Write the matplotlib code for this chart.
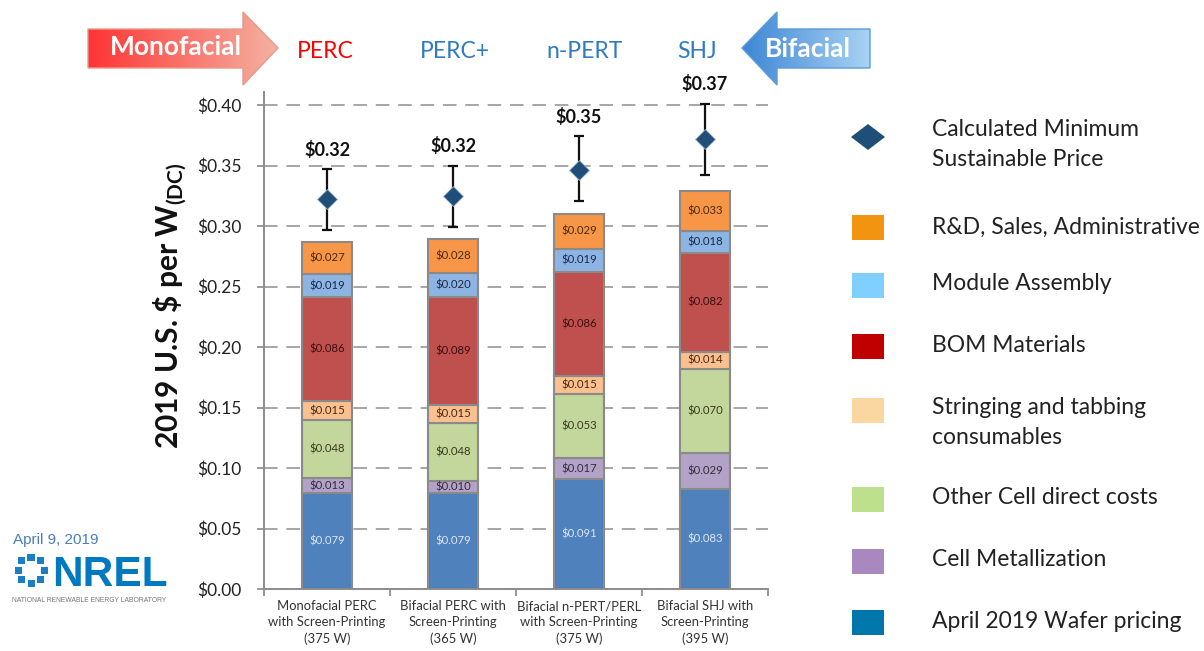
import numpy as np
import matplotlib
matplotlib.use("Agg")
import matplotlib.pyplot as plt
from matplotlib.patches import Polygon, Rectangle
from matplotlib.colors import LinearSegmentedColormap

plt.rcParams['font.family'] = ['Lato', 'DejaVu Sans']

# ---------------- data ----------------
categories = ["Monofacial PERC\nwith Screen-Printing\n(375 W)",
              "Bifacial PERC with\nScreen-Printing\n(365 W)",
              "Bifacial n-PERT/PERL\nwith Screen-Printing\n(375 W)",
              "Bifacial SHJ with\nScreen-Printing\n(395 W)"]
top_titles = ["PERC", "PERC+", "n-PERT", "SHJ"]

wafer = [0.079, 0.079, 0.091, 0.083]
metallization = [0.013, 0.010, 0.017, 0.029]
other_cell = [0.048, 0.048, 0.053, 0.070]
stringing = [0.015, 0.015, 0.015, 0.014]
bom = [0.086, 0.089, 0.086, 0.082]
module_assembly = [0.019, 0.020, 0.019, 0.018]
rnd_sga = [0.027, 0.028, 0.029, 0.033]

msp = [0.322, 0.325, 0.346, 0.372]
msp_low = [0.297, 0.299, 0.321, 0.342]
msp_high = [0.347, 0.350, 0.374, 0.401]
msp_labels = ["$0.32", "$0.32", "$0.35", "$0.37"]

yticks = [0.00, 0.05, 0.10, 0.15, 0.20, 0.25, 0.30, 0.35, 0.40]

series = [
    ("April 2019 Wafer pricing", wafer, "#4F81BD", "#0077AA", "#DCE6F2"),
    ("Cell Metallization", metallization, "#B3A2C7", "#A888BE", "#3A2A3A"),
    ("Other Cell direct costs", other_cell, "#C3D69B", "#BDE08C", "#3A3A20"),
    ("Stringing and tabbing\nconsumables", stringing, "#FAC090", "#FAD7A0", "#4A2A10"),
    ("BOM Materials", bom, "#C0504D", "#C00000", "#3A1010"),
    ("Module Assembly", module_assembly, "#8DB4E2", "#7FD0FF", "#1A2A4A"),
    ("R&D, Sales, Administrative", rnd_sga, "#F79646", "#F39410", "#4A2A10"),
]

# ---------------- figure ----------------
W, H = 1204, 651
fig = plt.figure(figsize=(W / 100, H / 100), dpi=100)

def fx(px):
    return px / W

def fy(py):
    return 1 - py / H

ax_l, ax_r, ax_b, ax_t = 264, 768, 589, 92
ax = fig.add_axes([fx(ax_l), fy(ax_b), fx(ax_r - ax_l), (ax_b - ax_t) / H])
ymax = 0.40 * (ax_b - ax_t) / (ax_b - 105)
ax.set_ylim(0, ymax)
ax.set_xlim(-0.5, 3.5)

x = np.arange(len(categories))
bottom = np.zeros(len(categories))
for name, vals, col, lcol, tcol in series:
    vals = np.array(vals)
    ax.bar(x, vals, 0.40, bottom=bottom, color=col, edgecolor="#8A8A8A",
           linewidth=1.5, zorder=3)
    for xi, b, v in zip(x, bottom, vals):
        ax.text(xi, b + v / 2, f"${v:.3f}", ha="center", va="center",
                fontsize=8.2, color=tcol, zorder=4)
    bottom = bottom + vals

# MSP diamonds and error bars
err = [np.array(msp) - np.array(msp_low), np.array(msp_high) - np.array(msp)]
ax.errorbar(x, msp, yerr=err, fmt="none", ecolor="#111111", elinewidth=1.6,
            capsize=3.8, capthick=1.6, zorder=5)
ax.plot(x, msp, linestyle="none", marker="D", markersize=10.5,
        markerfacecolor="#1F4E79", markeredgecolor="#9DB3CC",
        markeredgewidth=0.6, zorder=6)
for xi, hi, lab in zip(x, msp_high, msp_labels):
    ax.annotate(lab, (xi, hi), xytext=(0, 14), textcoords="offset points",
                ha="center", va="center", fontsize=13, fontweight="bold",
                color="#111111")

# grid / axes styling
ax.set_yticks(yticks)
ax.set_yticklabels([f"${t:.2f}" for t in yticks])
ax.yaxis.grid(True, color="#A6A6A6", linewidth=1.4, linestyle=(0, (7, 4.5)),
              zorder=1)
ax.set_axisbelow(True)
ax.set_xticks(np.arange(-0.5, 4.0, 1.0), minor=False)
ax.set_xticklabels([])
ax.set_xticks(x, minor=True)
ax.set_xticklabels(categories, minor=True, fontsize=9.4, color="#333333",
                   linespacing=1.42)
ax.tick_params(axis="x", which="minor", length=0, pad=8)
ax.tick_params(axis="x", which="major", length=5, color="#888888", width=1.2)
ax.tick_params(axis="y", length=5, color="#888888", width=1.2, labelsize=12.5,
               labelcolor="#222222", pad=11)
for s in ["top", "right"]:
    ax.spines[s].set_visible(False)
for s in ["left", "bottom"]:
    ax.spines[s].set_color("#8C8C8C")
    ax.spines[s].set_linewidth(1.4)

# y label
fig.text(fx(170), fy(306), r"2019 U.S. \$ per W$_{\mathregular{(DC)}}$",
         rotation=90, ha="center", va="center", fontsize=21.5,
         fontweight="bold", color="#111111")

# ---------------- overlay in pixel coordinates ----------------
ov = fig.add_axes([0, 0, 1, 1], zorder=10)
ov.axis("off")
ov.patch.set_alpha(0)

# top titles
title_x = [325, 455, 585, 697]
title_cols = ["#FF0000", "#2E7BC4", "#2E7BC4", "#2E7BC4"]
for tx, t, c in zip(title_x, top_titles, title_cols):
    ov.text(tx, 51, t, ha="center", va="center", fontsize=16.5, color=c)

def grad_arrow(poly, c0, c1, edge):
    pts = np.array(poly)
    cmap = LinearSegmentedColormap.from_list("g", [c0, c1])
    grad = np.linspace(0, 1, 256).reshape(1, -1)
    im = ov.imshow(grad, cmap=cmap, aspect="auto",
                   extent=(pts[:, 0].min(), pts[:, 0].max(),
                           pts[:, 1].max(), pts[:, 1].min()), zorder=2)
    p = Polygon(pts, closed=True, facecolor="none", edgecolor=edge,
                linewidth=1.0, zorder=3)
    ov.add_patch(p)
    im.set_clip_path(p)

grad_arrow([(88, 29), (243, 29), (243, 12), (278, 48), (243, 85), (243, 68),
            (88, 68)], "#FF3434", "#F4B2A2", "#E89A88")
ov.text(176, 47, "Monofacial", ha="center", va="center", fontsize=19,
        fontweight="bold", color="white", zorder=4)
grad_arrow([(870, 29), (777, 29), (777, 12), (742, 48), (777, 85), (777, 68),
            (870, 68)], "#3D86D4", "#A9D2F4", "#5B9BD5")
ov.text(808, 49, "Bifacial", ha="center", va="center", fontsize=19,
        fontweight="bold", color="white", zorder=4)

ov.set_xlim(0, W)
ov.set_ylim(H, 0)

# legend (manual)
leg_fs = 16.5
ov.add_patch(Polygon([(851, 137), (868, 124), (885, 137), (868, 150)],
                     closed=True, facecolor="#1F4E79", edgecolor="none"))
ov.text(932, 130, "Calculated Minimum", ha="left", va="center",
        fontsize=leg_fs, color="#222222")
ov.text(932, 160, "Sustainable Price", ha="left", va="center",
        fontsize=leg_fs, color="#222222")
leg_rows = [(["R&D, Sales, Administrative"], "#F39410", 227, [227]),
            (["Module Assembly"], "#7FD0FF", 285, [284]),
            (["BOM Materials"], "#C00000", 346, [345]),
            (["Stringing and tabbing", "consumables"], "#FAD7A0", 410, [407, 437]),
            (["Other Cell direct costs"], "#BDE08C", 499, [498]),
            (["Cell Metallization"], "#A888BE", 561, [560]),
            (["April 2019 Wafer pricing"], "#0077AA", 622, [621])]
for labs, col, yc, tys in leg_rows:
    ov.add_patch(Rectangle((852, yc - 12.5), 32, 25, facecolor=col,
                           edgecolor="none"))
    for lab, ty in zip(labs, tys):
        ov.text(932, ty, lab, ha="left", va="center", fontsize=leg_fs,
                color="#222222")

# NREL logo block
ov.text(13, 540, "April 9, 2019", ha="left", va="center", fontsize=11,
        color="#4A7EBB", family="Liberation Sans")
cx, cy, r = 31, 570, 13
for ang in np.arange(0, 360, 45):
    a = np.deg2rad(ang)
    px, py = cx + r * np.cos(a), cy + r * np.sin(a)
    ov.add_patch(Rectangle((px - 3.5, py - 3.5), 7, 7, facecolor="#1B7FC4",
                           edgecolor="none"))
ov.text(52, 586, "NREL", ha="left", va="baseline", fontsize=30.5,
        fontweight="bold", color="#0079C1", family="Liberation Sans")
ov.text(12, 600, "NATIONAL RENEWABLE ENERGY LABORATORY", ha="left",
        va="center", fontsize=4.9, color="#777777", family="Liberation Sans")

fig.savefig("out.png", dpi=100)
